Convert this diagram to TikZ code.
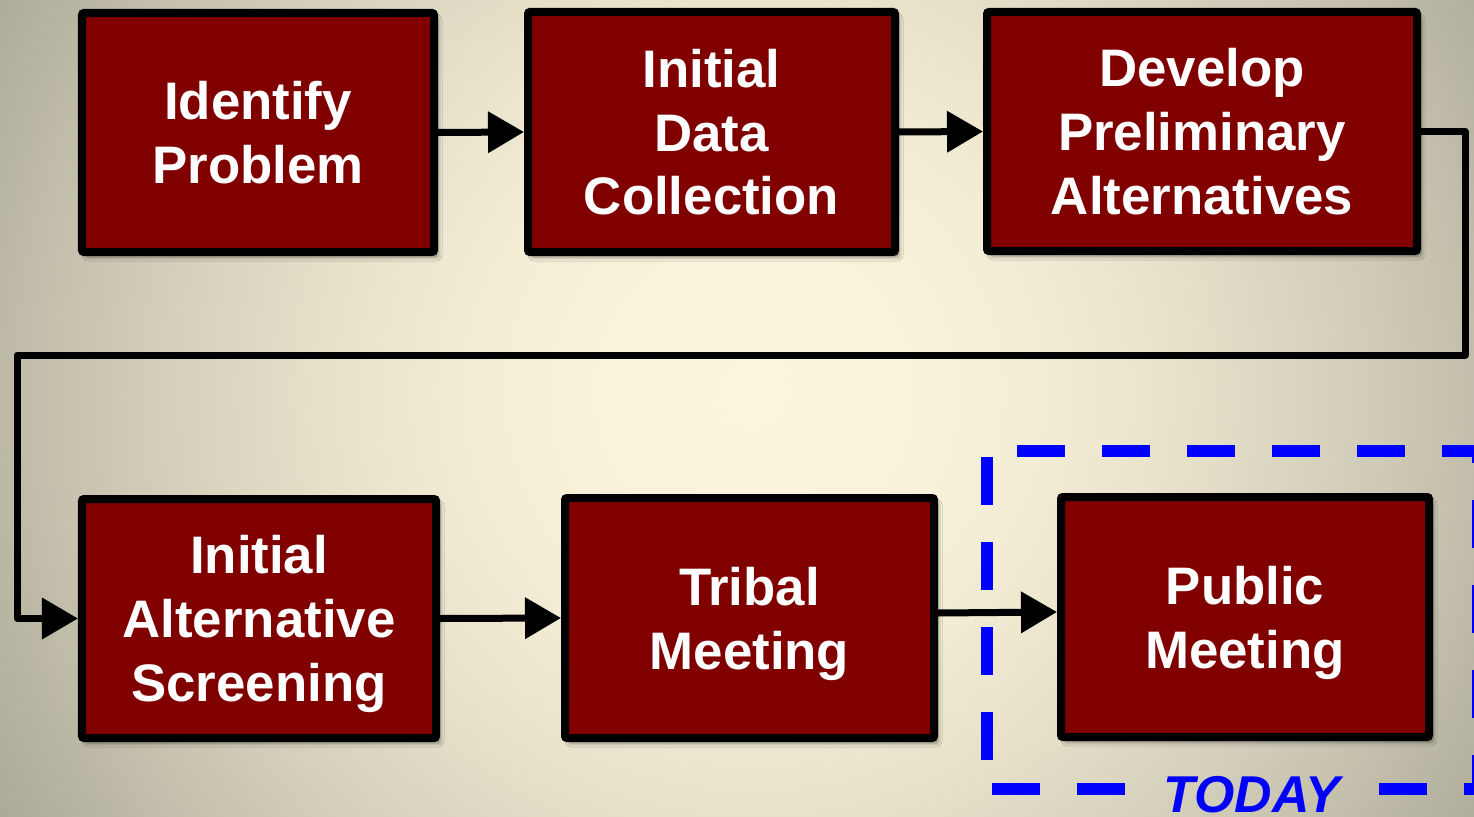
\documentclass[tikz,border=0pt]{standalone}
\usepackage{fontspec}
\setmainfont{Liberation Sans}
\usetikzlibrary{arrows.meta,shadows.blur}
\definecolor{bg0}{HTML}{FBF5DE}
\definecolor{bg1}{HTML}{F9F3DC}
\definecolor{bg2}{HTML}{F2ECD4}
\definecolor{bg3}{HTML}{E5DFC8}
\definecolor{bg4}{HTML}{D3CEB9}
\definecolor{bg5}{HTML}{C5C1AD}
\definecolor{bg6}{HTML}{B5B2A0}
\definecolor{bg7}{HTML}{A9A594}
\definecolor{boxred}{RGB}{128,0,0}
\definecolor{todayblue}{RGB}{0,0,255}
% path bounding box (1800px) maps to the central 50bp: 36px per bp
\pgfdeclareradialshading{bgshade}{\pgfpoint{0bp}{0bp}}{%
  color(0bp)=(bg0); color(4.17bp)=(bg1); color(8.33bp)=(bg2);
  color(12.5bp)=(bg3); color(16.67bp)=(bg4); color(19.44bp)=(bg5);
  color(22.22bp)=(bg6); color(25bp)=(bg7); color(50bp)=(bg7)}
\tikzset{
  stepbox/.style={draw=black, line width=8bp, fill=boxred, rounded corners=2bp,
    text=white, align=center, inner sep=0pt, text depth=0pt,
    font=\fontsize{53}{64}\selectfont\bfseries,
    blur shadow={shadow xshift=4bp, shadow yshift=-5bp, shadow blur radius=4bp, shadow opacity=45}},
  arr/.style={line width=7bp, draw=black, line join=round,
    -{Triangle[length=36bp,width=40bp]}},
  todayline/.style={draw=todayblue, line width=12bp, line cap=butt,
    dash pattern=on 48bp off 37bp}
}
\begin{document}
\begin{tikzpicture}[x=1bp,y=-1bp]
\useasboundingbox (0,0) rectangle (1474,816);
\begin{scope}
  \clip (0,0) rectangle (1474,816);
  \shade[shading=bgshade] (-146,-507) rectangle (1654,1293);
\end{scope}

% TODAY frame
\draw[todayline, dash phase=55bp] (987,451) -- (1478,451);
\draw[todayline, dash phase=79bp] (987,451) -- (987,789);
\draw[todayline, dash phase=36bp] (1478,451) -- (1478,789);
\draw[todayline, dash phase=34bp] (1478,789) -- (1360,789);
\draw[todayline, dash phase=80bp] (987,789) -- (1145,789);
\node[anchor=base, text=todayblue, inner sep=0pt,
  font=\fontsize{52}{60}\selectfont\bfseries\itshape] (today) at (1252,812) {TODAY};

% boxes
\node[stepbox, minimum width=352bp, minimum height=239bp] (b1) at (258,132.5) {Identify\\Problem};
\node[stepbox, minimum width=367bp, minimum height=240bp] (b2) at (711.5,132) {Initial\\Data\\Collection};
\node[stepbox, minimum width=430bp, minimum height=239bp] (b3) at (1202,131.5) {Develop\\Preliminary\\Alternatives};
\node[stepbox, minimum width=354bp, minimum height=239bp] (b4) at (259,618.5) {Initial\\Alternative\\Screening};
\node[stepbox, minimum width=369bp, minimum height=240bp] (b5) at (749.5,618) {Tribal\\Meeting};
\node[stepbox, minimum width=368bp, minimum height=240bp] (b6) at (1245,617) {Public\\Meeting};

% connectors
\coordinate (c1) at (1465,355);
\coordinate (c2) at (17,355);
\draw[arr] (b1.east) -- (b2.west);
\draw[arr] (b2.east) -- (b3.west);
\draw[arr] (b3.east) -| (c1) -- (c2) |- (b4.west);
\draw[arr] (b4.east) -- (b5.west);
\draw[arr] ([yshift=5bp]b5.east) -- ([yshift=5bp]b6.west);
\end{tikzpicture}
\end{document}
